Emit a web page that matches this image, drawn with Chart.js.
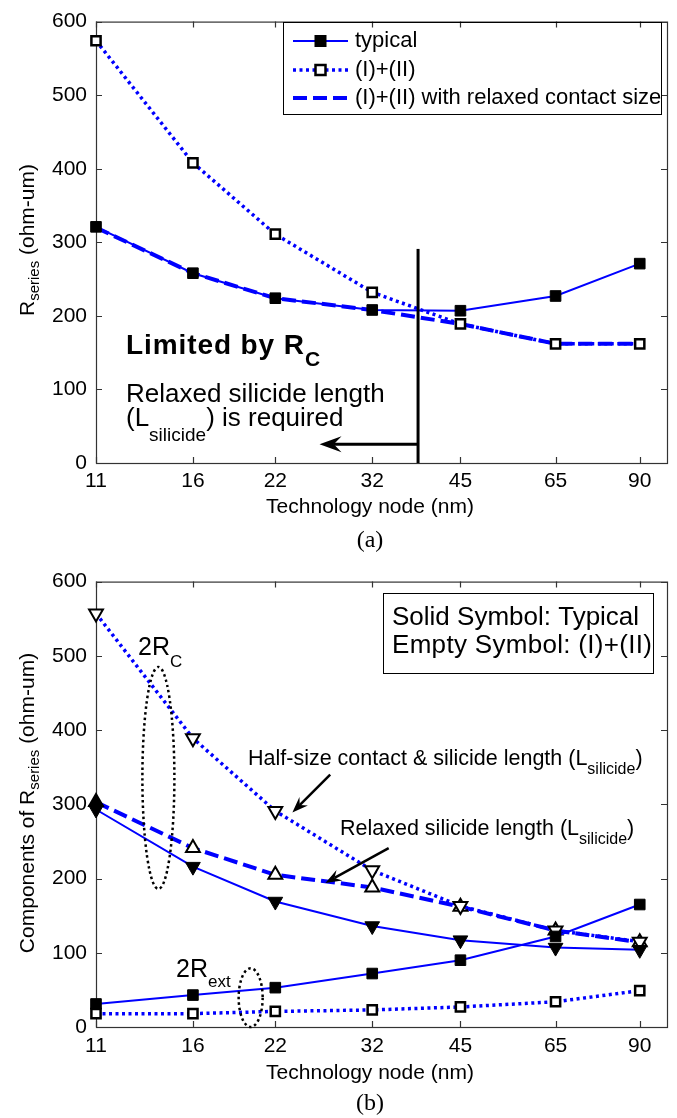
<!DOCTYPE html>
<html>
<head>
<meta charset="utf-8">
<script src="https://cdn.jsdelivr.net/npm/chart.js@4.4.1/dist/chart.umd.min.js"></script>
<style>
  html, body { margin: 0; padding: 0; background: #fff; }
  #wrap { position: relative; width: 677px; height: 1118px; }
  canvas { position: absolute; left: 0; }
</style>
</head>
<body>
<div id="wrap">
  <canvas id="chartA" width="677" height="560" style="top:0"></canvas>
  <canvas id="chartB" width="677" height="558" style="top:560px"></canvas>
</div>
<script>
// Technology nodes (nm) and y ticks
const nodes = [11, 16, 22, 32, 45, 65, 90];
const yTicks = [0, 100, 200, 300, 400, 500, 600];

// (a) R_series (ohm-um)
const typical = [321, 258, 224, 208, 207, 227, 271];
const sum12 = [574, 408, 311, 232, 189, 162, 162];
const relaxedContact = [320, 258, 224, 208, 189, 162, 162];

// (b) components of R_series (ohm-um)
const halfSize = [557, 389, 291, 211, 163, 130, 115];
const relaxedSilicide = [303, 241, 205, 188, 162, 130, 114];
const rcTypical = [293, 216, 169, 136, 117, 107, 104];
const rextTypical = [31, 43, 53, 72, 90, 122, 165];
const rextSum12 = [18, 18, 21, 23, 27, 34, 49];

const BLUE = '#0000ff';
const FONT = '"Liberation Sans", Arial, Helvetica, sans-serif';
const SERIF = '"Liberation Serif", "Times New Roman", serif';

const pts = vals => nodes.map((x, i) => ({ x, y: vals[i] }));

// line styles
const lineSolid = { borderWidth: 2, borderDash: [] };
const lineDot = { borderWidth: 3.5, borderDash: [3, 3.5] };
const lineDash = { borderWidth: 4, borderDash: [14, 6] };

// marker styles
const mFilledSq = { pointStyle: 'rect', pointRadius: 7.5, pointBackgroundColor: '#000', pointBorderWidth: 1 };
const mOpenSq = { pointStyle: 'rect', pointRadius: 6.5, pointBackgroundColor: '#fff', pointBorderWidth: 2.5 };
const mNone = { pointRadius: 0 };
const mFilledDown = { pointStyle: 'triangle', pointRotation: 180, pointRadius: 8.5, pointBackgroundColor: '#000', pointBorderWidth: 1 };
const mOpenDown = { pointStyle: 'triangle', pointRotation: 180, pointRadius: 8, pointBackgroundColor: '#fff', pointBorderWidth: 2 };
// first point of the relaxed curve is the typical (solid) one
const mOpenUp = { pointStyle: 'triangle', pointRadius: 8, pointBackgroundColor: relaxedSilicide.map((v, i) => i === 0 ? '#000' : '#fff'), pointBorderWidth: 2 };

function dataset(label, vals, line, marker) {
    return Object.assign({
        label,
        data: pts(vals),
        borderColor: BLUE,
        backgroundColor: BLUE,
        fill: false,
        tension: 0,
        clip: false,
        pointBorderColor: '#000',
        pointHoverRadius: 0
    }, line, marker);
}

function makeScales(xAxisH, labelPad) {
    return {
        x: {
            type: 'logarithmic', min: 11, max: 100,
            grid: { display: false, drawTicks: false },
            border: { display: false },
            afterBuildTicks: s => { s.ticks = nodes.map(v => ({ value: v })); },
            afterFit: s => { s.height = xAxisH; },
            ticks: {
                callback: v => String(v), autoSkip: false, maxRotation: 0, minRotation: 0,
                padding: labelPad, color: '#000', font: { family: FONT, size: 21 }
            }
        },
        y: {
            type: 'linear', min: 0, max: 600,
            grid: { display: false, drawTicks: false },
            border: { display: false },
            afterFit: s => { s.width = 96; },
            ticks: { stepSize: 100, padding: 9, color: '#000', font: { family: FONT, size: 21 } }
        }
    };
}

// Helpers
function txt(ctx, s, x, y, size, opts = {}) {
    ctx.font = (opts.bold ? 'bold ' : '') + size + 'px ' + (opts.family || FONT);
    ctx.fillStyle = '#000';
    ctx.textAlign = opts.align || 'left';
    ctx.textBaseline = opts.base || 'alphabetic';
    if (!opts.w) {
        ctx.fillText(s, x, y);
        return x + ctx.measureText(s).width;
    }
    // adjust letter spacing to the measured width of the original
    const nat = ctx.measureText(s).width;
    const gap = (opts.w - nat) / Math.max(1, s.length - 1);
    let cx = x;
    for (const ch of s) {
        ctx.fillText(ch, cx, y);
        cx += ctx.measureText(ch).width + gap;
    }
    return x + opts.w;
}

// rich text centred on (0,0) baseline, parts = [text, size, dy]
function richCentered(ctx, parts) {
    let total = 0;
    parts.forEach(p => { ctx.font = p[1] + 'px ' + FONT; total += ctx.measureText(p[0]).width; });
    let x = -total / 2;
    parts.forEach(p => { x = txt(ctx, p[0], x, p[2] || 0, p[1]); });
}

function arrow(ctx, x1, y1, x2, y2, len, half, lw) {
    const ang = Math.atan2(y2 - y1, x2 - x1);
    const c = Math.cos(ang), s = Math.sin(ang);
    const bx = x2 - c * len, by = y2 - s * len;
    const nx = x2 - c * len * 0.65, ny = y2 - s * len * 0.65;
    ctx.strokeStyle = '#000';
    ctx.fillStyle = '#000';
    ctx.lineWidth = lw;
    ctx.setLineDash([]);
    ctx.beginPath(); ctx.moveTo(x1, y1); ctx.lineTo(nx, ny); ctx.stroke();
    ctx.beginPath();
    ctx.moveTo(x2, y2);
    ctx.lineTo(bx - s * half, by + c * half);
    ctx.lineTo(nx, ny);
    ctx.lineTo(bx + s * half, by - c * half);
    ctx.closePath();
    ctx.fill();
}

function dottedEllipse(ctx, cx, top, bottom, rx) {
    ctx.save();
    ctx.strokeStyle = '#000';
    ctx.lineWidth = 2.5;
    ctx.setLineDash([2.5, 3]);
    ctx.beginPath();
    ctx.ellipse(cx, (top + bottom) / 2, rx, (bottom - top) / 2, 0, 0, Math.PI * 2);
    ctx.stroke();
    ctx.restore();
}

// Box + inward ticks (Matlab style), drawn under the data
const framePlugin = {
    id: 'frame',
    beforeDatasetsDraw(chart) {
        const { ctx, chartArea: a, scales: { x, y } } = chart;
        ctx.save();
        ctx.strokeStyle = '#333';
        ctx.lineWidth = 1.2;
        ctx.strokeRect(a.left + 0.5, a.top + 0.5, a.right - a.left, a.bottom - a.top);
        const tl = 6;
        ctx.beginPath();
        nodes.forEach(v => {
            const px = Math.round(x.getPixelForValue(v)) + 0.5;
            ctx.moveTo(px, a.bottom); ctx.lineTo(px, a.bottom - tl);
            ctx.moveTo(px, a.top); ctx.lineTo(px, a.top + tl);
        });
        yTicks.forEach(v => {
            const py = Math.round(y.getPixelForValue(v)) + 0.5;
            ctx.moveTo(a.left, py); ctx.lineTo(a.left + tl, py);
            ctx.moveTo(a.right, py); ctx.lineTo(a.right - tl, py);
        });
        ctx.stroke();
        ctx.restore();
    }
};

function drawLegendSample(ctx, x1, x2, y, line, marker) {
    ctx.save();
    ctx.strokeStyle = BLUE;
    ctx.lineWidth = line.borderWidth;
    ctx.setLineDash(line.borderDash);
    ctx.beginPath(); ctx.moveTo(x1, y); ctx.lineTo(x2, y); ctx.stroke();
    ctx.setLineDash([]);
    const mx = (x1 + x2) / 2;
    if (marker === 'filled') {
        ctx.fillStyle = '#000';
        ctx.fillRect(mx - 6, y - 6, 12, 12);
    } else if (marker === 'open') {
        ctx.fillStyle = '#fff';
        ctx.strokeStyle = '#000';
        ctx.lineWidth = 2.5;
        ctx.fillRect(mx - 5, y - 5, 10, 10);
        ctx.strokeRect(mx - 5, y - 5, 10, 10);
    }
    ctx.restore();
}

// ---------- (a) ----------
const annotA = {
    id: 'annotA',
    afterDatasetsDraw(chart) {
        const { ctx, scales: { x, y } } = chart;
        ctx.save();
        // boundary line and arrow
        const bx = x.getPixelForValue(38.2);
        ctx.strokeStyle = '#000';
        ctx.lineWidth = 3;
        ctx.beginPath();
        ctx.moveTo(bx, y.getPixelForValue(0));
        ctx.lineTo(bx, y.getPixelForValue(291));
        ctx.stroke();
        const ay = y.getPixelForValue(25.5);
        arrow(ctx, bx, ay, x.getPixelForValue(26.1), ay, 22, 8, 3);

        let cx = txt(ctx, 'Limited by R', 126, 354, 28, { bold: true, w: 178 });
        txt(ctx, 'C', cx + 1, 366, 21, { bold: true });
        txt(ctx, 'Relaxed silicide length', 126, 402, 26);
        cx = txt(ctx, '(L', 126, 426, 26);
        cx = txt(ctx, 'silicide', cx, 441, 19);
        txt(ctx, ') is required', cx, 426, 26);

        // legend
        ctx.strokeStyle = '#000';
        ctx.lineWidth = 1;
        ctx.setLineDash([]);
        ctx.strokeRect(283.5, 22.5, 378, 92);
        drawLegendSample(ctx, 293, 348, 41, lineSolid, 'filled');
        drawLegendSample(ctx, 293, 348, 70, lineDot, 'open');
        drawLegendSample(ctx, 293, 348, 98, lineDash, 'none');
        txt(ctx, 'typical', 355, 41, 22, { base: 'middle' });
        txt(ctx, '(I)+(II)', 355, 70, 22, { base: 'middle' });
        txt(ctx, '(I)+(II) with relaxed contact size', 355, 98, 22, { base: 'middle' });

        // axis titles and caption
        txt(ctx, 'Technology node (nm)', 370, 507, 21, { align: 'center', base: 'middle' });
        txt(ctx, '(a)', 370, 541, 24, { align: 'center', base: 'middle', family: SERIF });
        ctx.translate(34, 240);
        ctx.rotate(-Math.PI / 2);
        richCentered(ctx, [['R', 21], ['series', 15, 5], [' (ohm-um)', 21]]);
        ctx.restore();
    }
};

new Chart(document.getElementById('chartA'), {
    type: 'line',
    data: {
        datasets: [
            dataset('typical', typical, lineSolid, mFilledSq),
            dataset('(I)+(II)', sum12, lineDot, mOpenSq),
            dataset('(I)+(II) with relaxed contact size', relaxedContact, lineDash, mNone)
        ]
    },
    options: {
        responsive: false,
        animation: false,
        devicePixelRatio: 1,
        events: [],
        layout: { padding: { top: 16, right: 10, left: 0, bottom: 0 } },
        plugins: { legend: { display: false }, tooltip: { enabled: false } },
        scales: makeScales(97, 6)
    },
    plugins: [framePlugin, annotA]
});

// ---------- (b) ----------
const annotB = {
    id: 'annotB',
    afterDatasetsDraw(chart) {
        const { ctx, scales: { x, y } } = chart;
        ctx.save();
        // 2R_C and 2R_ext groupings
        dottedEllipse(ctx, x.getPixelForValue(14), y.getPixelForValue(485), y.getPixelForValue(186), 16);
        dottedEllipse(ctx, x.getPixelForValue(20), y.getPixelForValue(79), y.getPixelForValue(0), 12);

        let cx = txt(ctx, '2R', 138, 95, 25);
        txt(ctx, 'C', cx, 107, 17);
        cx = txt(ctx, '2R', 176, 417, 25);
        txt(ctx, 'ext', cx, 427, 17);

        cx = txt(ctx, 'Half-size contact & silicide length (L', 248, 205, 21.5);
        cx = txt(ctx, 'silicide', cx, 214, 16);
        txt(ctx, ')', cx, 205, 21.5);
        arrow(ctx, x.getPixelForValue(27.2), y.getPixelForValue(340),
              x.getPixelForValue(23.5), y.getPixelForValue(289), 16, 6, 2.5);

        cx = txt(ctx, 'Relaxed silicide length (L', 340, 275, 21.5);
        cx = txt(ctx, 'silicide', cx, 284, 16);
        txt(ctx, ')', cx, 275, 21.5);
        arrow(ctx, x.getPixelForValue(34.1), y.getPixelForValue(241),
              x.getPixelForValue(26.7), y.getPixelForValue(194), 16, 6, 2.5);

        // symbol key
        ctx.strokeStyle = '#000';
        ctx.lineWidth = 1;
        ctx.setLineDash([]);
        ctx.strokeRect(383.5, 33.5, 270, 80);
        txt(ctx, 'Solid Symbol: Typical', 392, 65, 26);
        txt(ctx, 'Empty Symbol: (I)+(II)', 392, 93, 26, { w: 260 });

        txt(ctx, 'Technology node (nm)', 370, 513, 21, { align: 'center', base: 'middle' });
        txt(ctx, '(b)', 370, 544, 24, { align: 'center', base: 'middle', family: SERIF });
        ctx.translate(34, 243);
        ctx.rotate(-Math.PI / 2);
        richCentered(ctx, [['Components of R', 21], ['series', 15, 5], [' (ohm-um)', 21]]);
        ctx.restore();
    }
};

new Chart(document.getElementById('chartB'), {
    type: 'line',
    data: {
        datasets: [
            dataset('2Rext typical', rextTypical, lineSolid, mFilledSq),
            dataset('2Rc typical', rcTypical, lineSolid, mFilledDown),
            dataset('Half-size contact & silicide length', halfSize, lineDot, mOpenDown),
            dataset('Relaxed silicide length', relaxedSilicide, lineDash, mOpenUp),
            dataset('2Rext (I)+(II)', rextSum12, lineDot, mOpenSq)
        ]
    },
    options: {
        responsive: false,
        animation: false,
        devicePixelRatio: 1,
        events: [],
        layout: { padding: { top: 18, right: 10, left: 0, bottom: 0 } },
        plugins: { legend: { display: false }, tooltip: { enabled: false } },
        scales: makeScales(91, 7)
    },
    plugins: [framePlugin, annotB]
});
</script>
</body>
</html>
